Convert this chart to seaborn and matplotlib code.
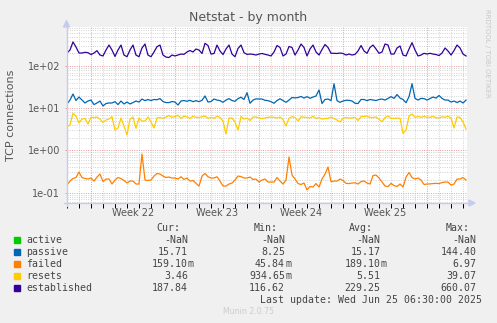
import numpy as np
import pandas as pd
import matplotlib
matplotlib.use("Agg")
import matplotlib.pyplot as plt
from matplotlib.lines import Line2D
from matplotlib.patches import Polygon
import seaborn as sns

# ---- data: TCP connection counters, one sample every 6 hours ----
start = pd.Timestamp("2025-05-24 00:00")

established = [203, 239, 371, 282, 203, 203, 211, 207, 187, 203,
               231, 182, 173, 239, 314, 239, 168, 239, 314, 182,
               166, 239, 314, 182, 166, 267, 332, 182, 166, 215,
               287, 314, 182, 163, 159, 182, 173, 182, 192, 189,
               215, 233, 215, 253, 239, 198, 345, 306, 192, 198,
               314, 227, 187, 253, 314, 192, 166, 260, 314, 207,
               189, 192, 189, 182, 192, 198, 189, 182, 173, 215,
               306, 275, 173, 192, 290, 275, 182, 239, 332, 275,
               173, 253, 314, 215, 182, 246, 323, 275, 200, 200,
               198, 203, 198, 182, 192, 182, 189, 227, 306, 227,
               200, 275, 314, 253, 200, 215, 332, 314, 192, 192,
               267, 298, 182, 173, 253, 357, 239, 173, 182, 200,
               192, 200, 192, 187, 177, 203, 267, 227, 182, 233,
               314, 267, 192, 173]

passive = [12.6, 15.6, 21.7, 15.2, 18.4, 15.6, 13.3, 14.8, 15.6, 12.2,
           13.3, 14.8, 11.3, 12.9, 13.3, 13.3, 14.3, 12.2, 14.8, 12.6,
           14.0, 12.6, 13.6, 14.8, 14.0, 16.5, 15.1, 16.1, 15.2, 16.1,
           15.9, 16.9, 14.4, 13.6, 13.6, 14.4, 14.0, 11.9, 14.8, 15.2,
           14.6, 15.4, 14.3, 15.1, 14.3, 15.4, 19.5, 14.0, 14.4, 16.5,
           15.6, 15.1, 13.8, 15.6, 16.9, 15.2, 14.6, 16.9, 18.2, 16.1,
           23.3, 13.1, 15.6, 16.7, 16.5, 16.5, 15.4, 15.1, 14.3, 13.1,
           15.2, 16.7, 15.2, 13.8, 15.6, 17.9, 17.6, 17.9, 19.0, 17.4,
           18.8, 17.2, 18.4, 19.5, 27.0, 12.9, 16.1, 16.5, 15.1, 38.0,
           15.1, 13.8, 14.8, 15.4, 15.4, 14.8, 13.1, 12.9, 16.1, 16.1,
           15.1, 16.1, 15.6, 15.2, 16.1, 16.5, 15.6, 17.1, 18.8, 17.1,
           21.1, 17.4, 16.1, 13.5, 18.8, 38.0, 17.1, 15.6, 17.1, 16.9,
           15.6, 16.9, 18.4, 17.4, 20.0, 17.1, 15.6, 15.6, 14.0, 14.8,
           13.6, 14.8, 13.3, 15.6]

resets = [3.65, 4.00, 7.57, 6.53, 4.46, 5.55, 5.70, 4.22, 6.08, 6.01,
          6.18, 5.55, 4.58, 5.25, 5.55, 6.30, 3.04, 3.40, 5.86, 3.79,
          2.32, 5.55, 6.18, 3.34, 5.86, 4.97, 4.97, 6.18, 4.71, 3.40,
          5.86, 6.01, 5.76, 6.18, 6.71, 6.08, 6.36, 6.82, 5.76, 6.46,
          6.26, 5.70, 6.43, 6.08, 6.01, 6.30, 6.53, 5.76, 6.08, 5.76,
          6.43, 6.08, 4.97, 2.45, 5.86, 5.86, 4.71, 3.04, 6.36, 5.55,
          5.86, 5.11, 6.18, 6.18, 5.91, 5.70, 5.91, 6.08, 6.18, 6.08,
          5.86, 6.18, 5.40, 3.79, 5.76, 6.30, 6.01, 4.97, 6.30, 6.11,
          6.01, 5.86, 6.43, 5.76, 6.01, 5.55, 5.70, 5.79, 6.18, 5.70,
          5.25, 4.71, 5.76, 6.01, 5.86, 5.86, 6.08, 5.11, 6.30, 6.36,
          6.53, 6.01, 6.01, 6.18, 5.46, 4.78, 6.01, 6.53, 5.76, 5.76,
          5.86, 5.76, 2.54, 3.04, 6.53, 7.29, 6.08, 6.36, 6.08, 6.36,
          6.11, 6.08, 6.43, 5.91, 5.91, 6.26, 6.11, 6.43, 5.86, 3.40,
          6.18, 6.08, 4.71, 3.22]

failed = [0.151, 0.188, 0.216, 0.228, 0.308, 0.228, 0.216, 0.210, 0.222, 0.188,
          0.234, 0.276, 0.183, 0.210, 0.210, 0.160, 0.199, 0.228, 0.216, 0.194,
          0.169, 0.188, 0.188, 0.160, 0.160, 0.822, 0.199, 0.194, 0.199, 0.247,
          0.284, 0.276, 0.247, 0.228, 0.234, 0.222, 0.222, 0.210, 0.238, 0.205,
          0.222, 0.188, 0.194, 0.166, 0.143, 0.247, 0.284, 0.238, 0.222, 0.222,
          0.238, 0.188, 0.143, 0.143, 0.160, 0.169, 0.199, 0.247, 0.240, 0.222,
          0.222, 0.234, 0.205, 0.210, 0.178, 0.199, 0.210, 0.178, 0.178, 0.178,
          0.228, 0.188, 0.160, 0.199, 0.698, 0.261, 0.210, 0.164, 0.156, 0.169,
          0.116, 0.140, 0.136, 0.164, 0.136, 0.210, 0.276, 0.405, 0.181, 0.188,
          0.188, 0.210, 0.194, 0.166, 0.164, 0.169, 0.171, 0.160, 0.183, 0.188,
          0.169, 0.160, 0.254, 0.261, 0.222, 0.178, 0.143, 0.140, 0.166, 0.147,
          0.140, 0.160, 0.136, 0.234, 0.299, 0.228, 0.210, 0.222, 0.199, 0.156,
          0.160, 0.161, 0.164, 0.166, 0.164, 0.173, 0.178, 0.178, 0.151, 0.160,
          0.210, 0.210, 0.228, 0.199]

# legend rows (draw order) and their summary statistics
series_names = ["active", "passive", "failed", "resets", "established"]
series_colors = ["#00CC00", "#0066B3", "#FF8000", "#FFCC00", "#330099"]
cur_vals = [np.nan, 15.71, 0.15910, 3.46, 187.84]
min_vals = [np.nan, 8.25, 0.04584, 0.93465, 116.62]
avg_vals = [np.nan, 15.17, 0.18910, 5.51, 229.25]
max_vals = [np.nan, 144.40, 6.97, 39.07, 660.07]

y_ticks = [0.1, 1, 10, 100]
last_update = "Last update: Wed Jun 25 06:30:00 2025"

# ---- long-form table ----
times = pd.date_range(start, periods=len(established), freq="6h")
columns = {"passive": passive, "failed": failed,
           "resets": resets, "established": established}
frames = [pd.DataFrame({"time": times, "value": vals, "series": name})
          for name, vals in columns.items()]
df = pd.concat(frames, ignore_index=True)
palette = dict(zip(series_names, series_colors))

# ---- figure geometry (pixel based) ----
W, H = 497, 323
BG = "#F0F0F0"
TXT = "#555555"


def fx(x):
    return x / W


def fy(y):
    return 1 - y / H


fig = plt.figure(figsize=(W / 100, H / 100), dpi=100, facecolor=BG)
L, R, T, B = 66.5, 467, 27, 203
ax = fig.add_axes([fx(L), fy(B), (R - L) / W, (B - T) / H])
ax.set_facecolor("white")
ax.set_yscale("log")

sns.lineplot(data=df, x="time", y="value", hue="series",
             hue_order=series_names[1:], palette=palette,
             estimator=None, legend=False, linewidth=0.9, ax=ax, zorder=3)

week0 = pd.Timestamp("2025-05-26")
x_lo = week0 - pd.Timedelta(days=2.04)
x_hi = week0 + pd.Timedelta(days=31.33)
ax.set_xlim(x_lo, x_hi)
ax.set_ylim(0.0568, 840)

# ---- grid (fine dotted lines) ----
dot = (0, (1, 1.3))
GRID = "#D4D4D4"
MGRID = "#EDA0A0"
days = pd.date_range("2025-05-24", "2025-06-26", freq="D")
for d in days:
    c = MGRID if d.dayofweek == 0 else GRID
    ax.axvline(d, color=c, lw=0.72, ls=dot, zorder=1.5 if c == MGRID else 1)
for e in range(-2, 3):
    for m in range(1, 10):
        v = m * 10.0 ** e
        if 0.0568 < v < 840:
            ax.axhline(v, color=MGRID if m == 1 else GRID, lw=0.72,
                       ls=dot, zorder=1.5 if m == 1 else 1)

# ---- ticks ----
ax.set_xticks(list(days))
ax.set_xticklabels([])
for d, tk in zip(days, ax.xaxis.get_major_ticks()):
    monday = d.dayofweek == 0
    tk.tick1line.set_color(MGRID if monday else "#C8C8C8")
    tk.tick1line.set_markersize(3.2 if monday else 2.0)
mondays = [d for d in days if d.dayofweek == 0]
weeks = [d for d in mondays if d + pd.Timedelta(days=7) <= x_hi]
label_pos = [d + pd.Timedelta(hours=84) for d in weeks]
ax.set_xticks(label_pos, minor=True)
ax.set_xticklabels([f"Week {d.isocalendar()[1]}" for d in weeks],
                   minor=True)
ax.tick_params(axis="x", which="minor", length=0, pad=3.6,
               labelsize=7, labelcolor=TXT)
ax.tick_params(axis="x", which="major", width=0.72, direction="out")

ax.yaxis.set_minor_locator(matplotlib.ticker.NullLocator())
ax.set_yticks(y_ticks)
ax.set_yticklabels([f"{v:.0e}" for v in y_ticks])
ax.tick_params(axis="y", which="major", length=1.5, width=0.72,
               color=MGRID, pad=3.2, labelsize=7, labelcolor=TXT)

ax.set_xlabel("")
ax.set_ylabel("")
for s in ax.spines.values():
    s.set_visible(False)

# ---- axes with arrows ----
AXC = "#C6CCEE"
fig.add_artist(Line2D([fx(L), fx(L)], [fy(B + 3), fy(24)],
                      color=AXC, lw=1.0, transform=fig.transFigure))
fig.add_artist(Line2D([fx(L - 3), fx(470)], [fy(B), fy(B)],
                      color=AXC, lw=1.0, transform=fig.transFigure))
fig.add_artist(Polygon([(fx(L - 3), fy(27)), (fx(L + 3), fy(27)),
                        (fx(L), fy(20.5))], closed=True, color=AXC,
                       transform=fig.transFigure))
fig.add_artist(Polygon([(fx(469), fy(B - 3)), (fx(469), fy(B + 3)),
                        (fx(475), fy(B))], closed=True, color=AXC,
                       transform=fig.transFigure))

# ---- titles ----
fig.text(fx(248.5), fy(17), "Netstat - by month", ha="center", va="center",
         fontsize=9, color=TXT)
fig.text(fx(11), fy(115), "TCP connections", ha="center", va="center",
         rotation=90, fontsize=8, color=TXT)
fig.text(fx(487), fy(53), "RRDTOOL / TOBI OETIKER", ha="center",
         va="center", rotation=-90, fontsize=5, color="#C8C8C8")
fig.text(fx(248.5), fy(311), "Munin 2.0.75", ha="center", va="center",
         fontsize=5.6, color="#CCCCCC")

# ---- legend table ----
MONO = "DejaVu Sans Mono"
LTXT = "#444444"
FS = 7.1


def fmt(v):
    if np.isnan(v):
        return "-NaN", ""
    if abs(v) < 1:
        return f"{v * 1000:.2f}", "m"
    return f"{v:.2f}", ""


col_right = [188, 285, 380.7, 476.7]
col_heads = ["Cur:", "Min:", "Avg:", "Max:"]
for xr, head in zip(col_right, col_heads):
    fig.text(fx(xr - 7.5), fy(228), head, ha="right", va="center",
             family=MONO, fontsize=FS, color=LTXT)

row_y = [240, 252, 264, 276, 288]
stats = list(zip(cur_vals, min_vals, avg_vals, max_vals))
for name, color, yy, row in zip(series_names, series_colors, row_y, stats):
    fig.add_artist(Polygon([(fx(14), fy(yy - 3)), (fx(20), fy(yy - 3)),
                            (fx(20), fy(yy + 3)), (fx(14), fy(yy + 3))],
                           closed=True, color=color,
                           transform=fig.transFigure))
    fig.text(fx(26), fy(yy), name, ha="left", va="center",
             family=MONO, fontsize=FS, color=LTXT)
    for xr, v in zip(col_right, row):
        num, suffix = fmt(v)
        fig.text(fx(xr), fy(yy), num, ha="right", va="center",
                 family=MONO, fontsize=FS, color=LTXT)
        if suffix:
            fig.text(fx(xr), fy(yy), suffix, ha="left", va="center",
                     family=MONO, fontsize=FS, color=LTXT)

fig.text(fx(481.7), fy(300), last_update, ha="right", va="center",
         family=MONO, fontsize=FS, color=LTXT)

fig.savefig("out.png", dpi=100, facecolor=BG)
